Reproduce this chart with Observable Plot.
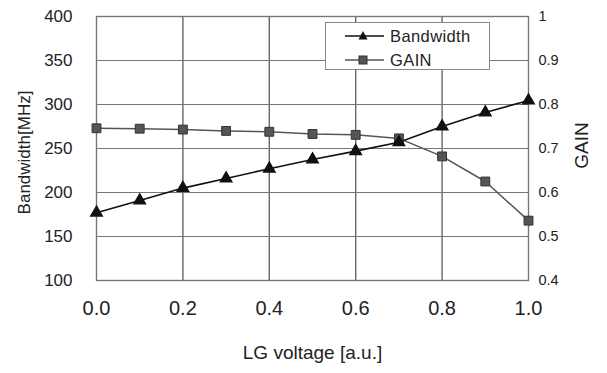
<!DOCTYPE html>
<html><head><meta charset="utf-8">
<script src="https://cdn.jsdelivr.net/npm/d3@7"></script>
<script src="https://cdn.jsdelivr.net/npm/@observablehq/plot@0.6"></script>
<style>
body{margin:0;background:#fff;font-family:"Liberation Sans",Arial,sans-serif;}
#wrap{position:relative;width:607px;height:373px;}
#legend{position:absolute;left:325px;top:22px;width:165px;height:48px;border:1px solid #888;background:#fff;box-sizing:border-box;font-size:16.5px;color:#222;}
#legend div{position:absolute;left:0;height:20px;display:flex;align-items:center;}
#legend span{margin-left:1px;letter-spacing:0.4px}
</style></head>
<body><div id="wrap"><div id="chart"></div>
<div id="legend">
 <div style="top:3px"><svg width="63" height="20"><line x1="19" x2="58" y1="10" y2="10" stroke="#111" stroke-width="1.5"/><path d="M37,5 L41.5,13.5 L32.5,13.5Z" fill="#111"/></svg><span>Bandwidth</span></div>
 <div style="top:27px"><svg width="63" height="20"><line x1="19" x2="58" y1="10" y2="10" stroke="#555" stroke-width="1.5"/><rect x="33" y="6" width="8" height="8" fill="#555" stroke="#333"/></svg><span>GAIN</span></div>
</div></div>
<script>
const voltage = [0.0,0.1,0.2,0.3,0.4,0.5,0.6,0.7,0.8,0.9,1.0];
const bandwidth = [177,191,205,216,227,237.5,247,257,275,291,304.5];
const gain = [0.746,0.745,0.743,0.740,0.738,0.733,0.731,0.723,0.682,0.625,0.536];
const xTicks = [0,0.2,0.4,0.6,0.8,1.0];
const bwTicks = [100,150,200,250,300,350,400];
const gainTickLabels = ["0.4","0.5","0.6","0.7","0.8","0.9","1"];
const gainDomain = [0.4,1.0];
const bwDomain = [100,400];

const toBw = g => bwDomain[0] + (g-gainDomain[0])*(bwDomain[1]-bwDomain[0])/(gainDomain[1]-gainDomain[0]);
const bwData = voltage.map((v,i)=>({v, b: bandwidth[i]}));
const gData = voltage.map((v,i)=>({v, g: gain[i], b: toBw(gain[i])}));

const chart = Plot.plot({
  width:607, height:373,
  marginTop:16, marginBottom:93, marginLeft:96, marginRight:79,
  style:{fontFamily:'"Liberation Sans",Arial,sans-serif', color:"#222", background:"#fff"},
  x:{domain:[0,1]},
  y:{domain:bwDomain},
  marks:[
    Plot.gridX([0.2,0.4,0.6,0.8], {stroke:"#666", strokeOpacity:1, strokeWidth:1.4}),
    Plot.gridY(bwTicks, {stroke:"#777", strokeOpacity:1, strokeWidth:1.2}),
    Plot.frame({stroke:"#777", strokeWidth:1.4}),
    Plot.axisX(xTicks, {tickSize:0, tickPadding:20, tickFormat:d3.format(".1f"), fontSize:20, label:null}),
    Plot.axisY(bwTicks, {anchor:"left", tickSize:0, tickPadding:24, fontSize:17, label:null}),
    Plot.axisY(bwTicks, {anchor:"right", tickSize:0, tickPadding:10, fontSize:14.5, label:null,
      tickFormat:(d,i)=>gainTickLabels[i]}),
    Plot.text(["LG voltage [a.u.]"], {frameAnchor:"bottom", dy:78, fontSize:19, fill:"#222"}),
    Plot.text(["Bandwidth[MHz]"], {frameAnchor:"left", textAnchor:"middle", dx:-72, dy:4, rotate:-90, fontSize:17, fill:"#222"}),
    Plot.text(["GAIN"], {frameAnchor:"right", textAnchor:"middle", dx:53, dy:-3, rotate:-90, fontSize:19, fill:"#222"}),
    Plot.line(gData, {x:"v", y:"b", stroke:"#555", strokeWidth:1.5}),
    Plot.dot(gData, {x:"v", y:"b", symbol:"square", r:5, fill:"#555", stroke:"#333", strokeWidth:1}),
    Plot.line(bwData, {x:"v", y:"b", stroke:"#111", strokeWidth:1.6}),
    Plot.dot(bwData, {x:"v", y:"b", symbol:"triangle", r:4.2, fill:"#111", stroke:"#111"})
  ]
});
document.getElementById("chart").appendChild(chart);
</script>
</body></html>
